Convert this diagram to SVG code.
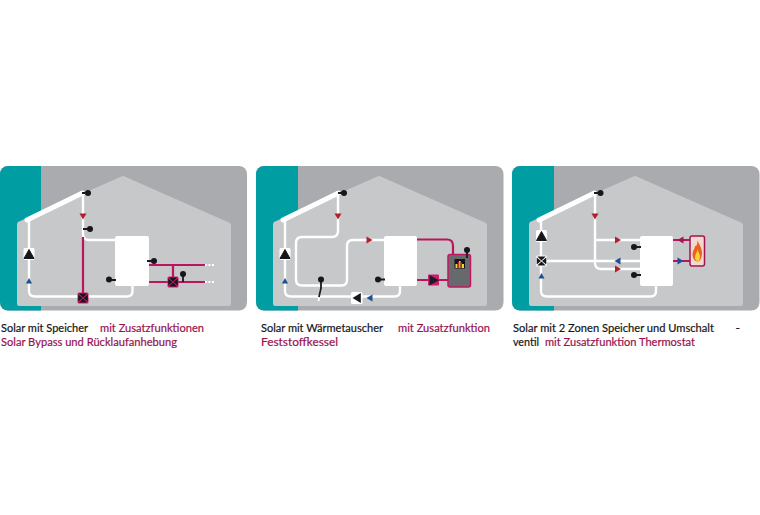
<svg xmlns="http://www.w3.org/2000/svg" width="760" height="515" viewBox="0 0 760 515">
<style>
.bg{fill:#a9abae}.teal{fill:#009ea2}.house{fill:#c6c8ca;stroke:#c6c8ca;stroke-width:5;stroke-linejoin:round}
.w{fill:none;stroke:#fff;stroke-width:2.400;stroke-linejoin:round}
.coll{fill:none;stroke:#fff;stroke-width:5;stroke-linecap:round}
.c{fill:none;stroke:#bb1560;stroke-width:2.200}
.d{fill:none;stroke:#fff;stroke-width:2;stroke-dasharray:2 1.500}
.s{stroke:#1a1a1f;stroke-width:1.800;fill:none}
.k{fill:#16161c}.tank{fill:#fff}
.red{fill:#b3202c}.blue{fill:#1d4f96}.crim{fill:#a31550}
.pk{fill:#d01a6c}.wb{fill:#fff}
text{font-family:"Lato","Noto Sans",sans-serif;font-size:12px;fill:#141414;stroke:#141414;stroke-width:.2}
.m{fill:#97114f;stroke:#97114f}
</style>
<defs>
<clipPath id="c1"><rect x="0" y="166" width="247" height="144.500" rx="8"/></clipPath>
<clipPath id="c2"><rect x="256" y="166" width="247.500" height="144.500" rx="8"/></clipPath>
<clipPath id="c3"><rect x="512" y="166" width="247.500" height="144.500" rx="8"/></clipPath>
<g id="pump"><rect x="-5.500" y="-6" width="11" height="12" rx="1.500" fill="#fff"/><path d="M0-4.500 5 4.500H-5Z" class="k" stroke="#16161c" stroke-linejoin="round"/></g>
<g id="mix"><rect x="-5.500" y="-5.500" width="11" height="11" rx="1.500"/><path d="M-4.200-4.500H4.200L0-.4ZM-4.200 4.500H4.200L0 .4ZM-4.800-3.500-.5 0-4.800 3.500ZM4.800-3.500 .5 0 4.800 3.500Z" class="k"/></g>
<path id="up" d="M0-3 3 2.500H-3Z"/>
<path id="dn" d="M0 3.500 3.500-2.500H-3.500Z"/>
<path id="rt" d="M3.500 0-2.500-3.500V3.500Z"/>
<path id="lt" d="M-3.500 0 2.500-3.500V3.500Z"/>
<circle id="dot" r="3" class="k"/>
</defs>

<g id="panel-1">
<rect x="0" y="166" width="247" height="144.500" rx="8" class="bg"/>
<rect x="0" y="166" width="41" height="145" class="teal" clip-path="url(#c1)"/>
<path d="M19.500 224 123 178.500 228.500 225V303.500H19.500Z" class="house"/>
</g>
<g id="panel-2">
<rect x="256" y="166" width="247.500" height="144.500" rx="8" class="bg"/>
<rect x="256" y="166" width="42" height="145" class="teal" clip-path="url(#c2)"/>
<path d="M275.500 224 379 178.500 484.500 225V303.500H275.500Z" class="house"/>
</g>
<g id="panel-3">
<rect x="512" y="166" width="247.500" height="144.500" rx="8" class="bg"/>
<rect x="512" y="166" width="42" height="145" class="teal" clip-path="url(#c3)"/>
<path d="M531.500 224 635 178.500 740.500 225V303.500H531.500Z" class="house"/>
</g>

<g id="connectors">
<path class="coll" d="M27 220 82.500 193"/>
<path class="w" d="M29 220V291Q29 296.500 35 296.500H127Q132.500 296.500 132.500 291V285"/>
<path class="w" d="M83 193V234Q83 240 89 240H116"/>
<path class="c" d="M83 237V294M149 265H205M149 282H205M173 265V282"/>
<path class="d" d="M205 265H215M205 282H215"/>

<path class="coll" d="M283 220 338.500 193"/>
<path class="w" d="M285 220V291Q285 296.500 291 296.500H394.500Q400 296.500 400 291V285"/>
<path class="w" d="M338 193V231Q338 237 332 237H302Q296 237 296 243V279.500Q296 285.500 302 285.500H341.500Q347 285.500 347 279.500V246Q347 240 353 240H385"/>
<path class="c" d="M417 239.500H447Q453 239.500 453 245.500V255M417 280H449"/>

<path class="coll" d="M539 220 594.500 193"/>
<path class="w" d="M541 220V291Q541 296.500 547 296.500H650.500Q656 296.500 656 291V285"/>
<path class="w" d="M595 193V263Q595 269 601 269H641M595 240H641M541 261H641"/>
<path class="c" d="M673 240H691M673 261H691"/>
</g>

<g id="tank-1"><rect class="tank" x="115" y="236" width="34" height="50" rx="2"/></g>
<g id="sensors-1">
<path class="s" d="M82 193H88M83 229H90M147 261H154M109 280H116M183 274V282"/>
<use href="#dot" x="88" y="193"/><use href="#dot" x="90" y="229"/><use href="#dot" x="154" y="261"/><use href="#dot" x="109" y="279.500"/><use href="#dot" x="183" y="274"/>
</g>
<g id="pump-1"><use href="#pump" x="29" y="254"/></g>
<g id="flow-1"><use href="#up" class="blue" x="29" y="281"/><use href="#dn" class="red" x="83" y="216"/></g>
<g id="valve-1a"><use href="#mix" class="pk" x="83" y="298"/></g>
<g id="valve-1b"><use href="#mix" class="pk" x="173" y="282"/></g>

<g id="tank-2"><rect class="tank" x="384" y="236" width="33" height="50" rx="2"/></g>
<g id="sensors-2">
<path d="M320.500 290 318.500 301" stroke="#fff" stroke-width="2" fill="none"/>
<path class="s" d="M338 193H344M378 279.500H385M321 280V288L319 297"/>
<use href="#dot" x="344" y="193"/><use href="#dot" x="378" y="279.500"/><use href="#dot" x="321" y="279.500"/>
</g>
<g id="pump-2a"><use href="#pump" x="285" y="254"/></g>
<g id="pump-2b"><rect x="351" y="292" width="11.500" height="12" rx="1.500" class="wb"/><path d="M352.500 298 360.800 293V303Z" class="k"/></g>
<g id="flow-2"><use href="#up" class="blue" x="285" y="281"/><use href="#dn" class="red" x="338" y="216"/><use href="#rt" class="red" x="369" y="240"/><use href="#lt" class="blue" x="370" y="298"/></g>
<g id="pump-2c"><rect x="428" y="274.500" width="11" height="11" rx="1" class="pk"/><path d="M439 280.200 429.500 275V285.500Z" fill="#1d1a2a"/></g>
<g id="boiler-2">
<rect x="448" y="254.500" width="22.500" height="32.500" rx="2" fill="#68696d" stroke="#c0185f" stroke-width="1.500"/>
<rect x="454.500" y="259" width="10.500" height="9.500" fill="#15151b"/>
<path d="M455.500 268V264H457.500V268ZM459 268V261H460.500V268ZM462 268V264H464V268Z" fill="#e8d83a"/>
<path d="M457.800 268V262H459.300V268ZM460.700 268V262.500H462V268Z" fill="#c62a25"/>
<path class="s" d="M467 250V258"/><use href="#dot" x="467" y="250"/>
</g>

<g id="tank-3"><rect class="tank" x="640" y="236" width="33" height="50" rx="2"/></g>
<g id="sensors-3">
<path class="s" d="M594 193H601M634 247H641M634 275H641"/>
<use href="#dot" x="600.500" y="193"/><use href="#dot" x="634" y="247"/><use href="#dot" x="634" y="275"/>
</g>
<g id="pump-3"><use href="#pump" x="541.500" y="236"/></g>
<g id="valve-3"><use href="#mix" class="wb" x="541.500" y="261"/></g>
<g id="flow-3"><use href="#up" class="blue" x="541.500" y="276"/><use href="#dn" class="red" x="595" y="216"/><use href="#rt" class="red" x="617.500" y="240"/><use href="#rt" class="red" x="617.500" y="269"/><use href="#lt" class="blue" x="618" y="261"/><use href="#lt" class="crim" x="681" y="240"/><use href="#rt" class="blue" x="680" y="261"/></g>
<g id="boiler-3">
<rect x="690" y="236" width="14.500" height="30" rx="2" fill="#f3d8cf" stroke="#a31550" stroke-width="1.500"/>
<path d="M697.500 240C698.500 244 702 247 702 253 702 258 700 261.500 697.500 261.500 694.500 261.500 692.500 258 692.500 254 692.500 250.500 695 249 695 246 696.500 246.500 697.500 244 697.500 240Z" fill="#e8641c"/>
<path d="M697.500 249C698 252 700 254 700 257 700 259.500 699 261 697.500 261 696 261 695 259.500 695 257.500 695 254.500 697 253 697.500 249Z" fill="#f7d23c"/>
</g>

<g id="labels">
<text x="1" y="332" textLength="87" lengthAdjust="spacingAndGlyphs">Solar mit Speicher</text>
<text x="100" y="332" textLength="104" lengthAdjust="spacingAndGlyphs" class="m">mit Zusatzfunktionen</text>
<text x="1" y="346" textLength="176" lengthAdjust="spacingAndGlyphs" class="m">Solar Bypass und Rücklaufanhebung</text>
<text x="261" y="332" textLength="122" lengthAdjust="spacingAndGlyphs">Solar mit Wärmetauscher</text>
<text x="398" y="332" textLength="92" lengthAdjust="spacingAndGlyphs" class="m">mit Zusatzfunktion</text>
<text x="261" y="346" textLength="77" lengthAdjust="spacingAndGlyphs" class="m">Feststoffkessel</text>
<text x="513" y="332" textLength="201" lengthAdjust="spacingAndGlyphs">Solar mit 2 Zonen Speicher und Umschalt</text>
<text x="735.500" y="332">-</text>
<text x="513" y="346" textLength="26" lengthAdjust="spacingAndGlyphs">ventil</text>
<text x="545" y="346" textLength="150" lengthAdjust="spacingAndGlyphs" class="m">mit Zusatzfunktion Thermostat</text>
</g>
</svg>
